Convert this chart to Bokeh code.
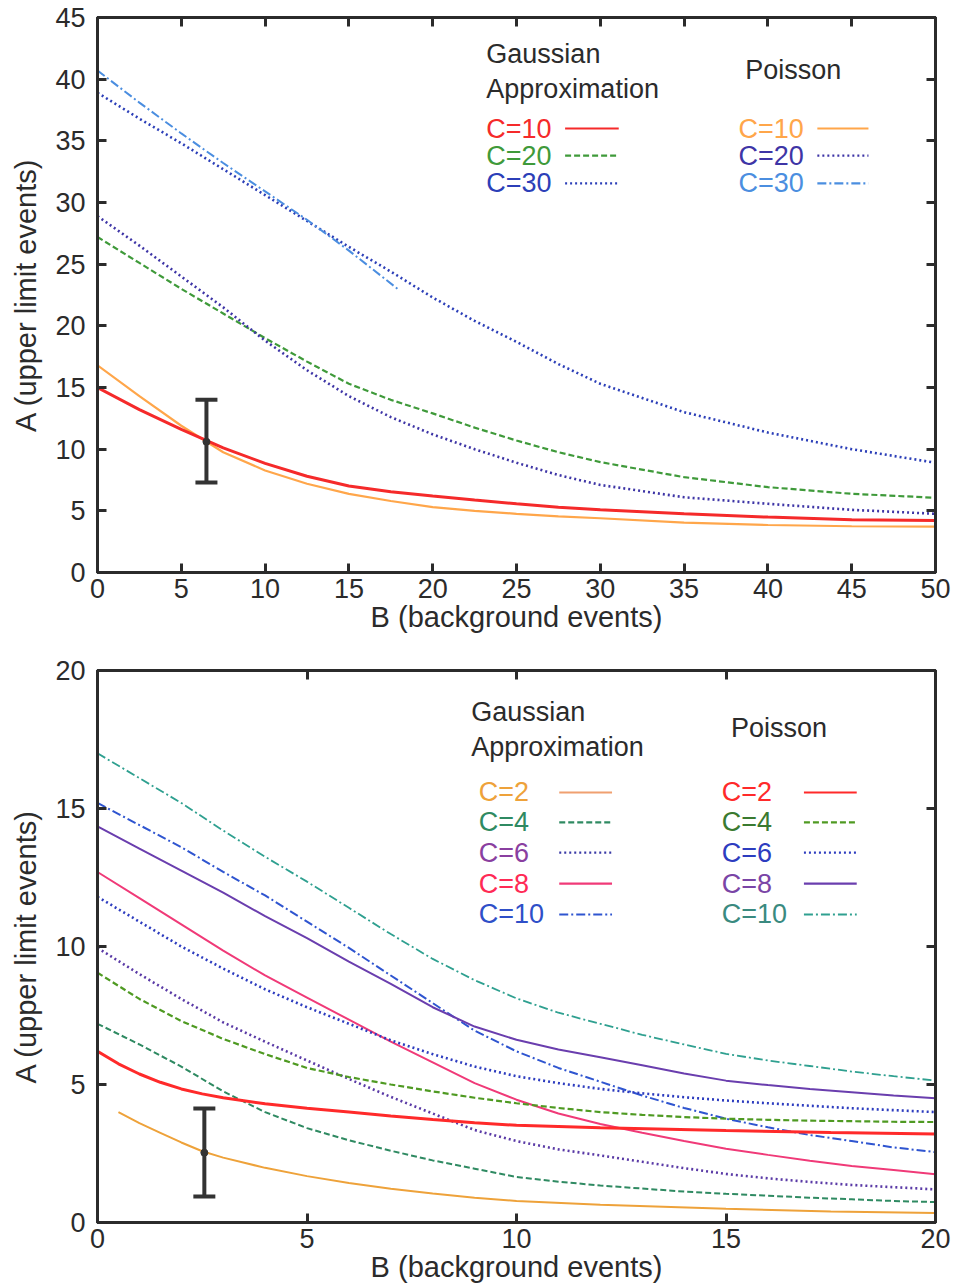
from bokeh.plotting import figure
from bokeh.models import Range1d, FixedTicker, LinearAxis, Label, Whisker, TeeHead, ColumnDataSource
from bokeh.layouts import column
from bokeh.embed import file_html
from bokeh.resources import INLINE

# ---------------- data: top panel (B from 0 to 50) ----------------
top_B = [0, 2.5, 5, 7.5, 10, 12.5, 15, 17.5, 20, 22.5, 25, 27.5, 30, 35, 40, 45, 50]
top_gauss_c10 = [15.0, 13.2, 11.6, 10.1, 8.85, 7.8, 7.02, 6.55, 6.2, 5.87, 5.57, 5.3, 5.08, 4.76, 4.49, 4.28, 4.22]
top_gauss_c20 = [27.2, 25.1, 23.0, 21.0, 19.0, 17.1, 15.3, 14.0, 12.9, 11.75, 10.7, 9.75, 8.95, 7.73, 6.92, 6.38, 6.06]
top_gauss_c30 = [38.9, 36.8, 34.8, 32.7, 30.6, 28.5, 26.4, 24.4, 22.3, 20.4, 18.7, 16.9, 15.3, 13.0, 11.35, 10.0, 8.9]
top_poisson_c10 = [16.8, 14.3, 11.9, 9.75, 8.27, 7.2, 6.38, 5.8, 5.3, 5.0, 4.76, 4.55, 4.4, 4.05, 3.85, 3.75, 3.72]
top_poisson_c20 = [28.9, 26.5, 24.0, 21.5, 18.8, 16.4, 14.3, 12.6, 11.2, 10.0, 8.9, 7.9, 7.1, 6.1, 5.57, 5.08, 4.76]
top_poisson_c30_B = [0, 2.5, 5, 7.5, 10, 12.5, 15, 18]
top_poisson_c30 = [40.7, 38.1, 35.6, 33.2, 30.9, 28.6, 26.1, 22.9]
top_err_B = [6.5]
top_err_mid = [10.6]
top_err_low = [7.3]
top_err_high = [14.0]

# ---------------- data: bottom panel (B from 0 to 20) ----------------
bot_B = list(range(0, 21))
bot_gauss_c2_B = [0.5, 1, 1.5, 2, 2.5, 3, 4, 5, 6, 7, 8, 9, 10, 12, 15, 17.5, 20]
bot_gauss_c2 = [4.0, 3.6, 3.25, 2.9, 2.58, 2.35, 1.98, 1.68, 1.43, 1.22, 1.05, 0.9, 0.78, 0.64, 0.5, 0.4, 0.34]
bot_gauss_c4 = [7.2, 6.45, 5.65, 4.75, 4.0, 3.42, 2.98, 2.6, 2.25, 1.95, 1.65, 1.48, 1.34, 1.23, 1.12, 1.04, 0.97, 0.9, 0.84, 0.78, 0.74]
bot_gauss_c6 = [9.95, 9.0, 8.1, 7.25, 6.55, 5.87, 5.2, 4.55, 3.95, 3.35, 2.95, 2.65, 2.43, 2.2, 1.97, 1.76, 1.6, 1.47, 1.36, 1.28, 1.2]
bot_gauss_c8 = [12.7, 11.75, 10.8, 9.85, 8.95, 8.15, 7.35, 6.55, 5.8, 5.05, 4.45, 3.95, 3.57, 3.25, 2.95, 2.67, 2.45, 2.24, 2.05, 1.9, 1.75]
bot_gauss_c10 = [15.2, 14.4, 13.6, 12.7, 11.85, 10.9, 9.95, 8.95, 7.95, 6.95, 6.2, 5.6, 5.1, 4.6, 4.15, 3.76, 3.45, 3.17, 2.95, 2.72, 2.55]
bot_poisson_c2_B = [0, 0.5, 1, 1.5, 2, 2.5, 3, 4, 5, 6, 7, 8, 9, 10, 12, 15, 17.5, 20]
bot_poisson_c2 = [6.2, 5.75, 5.38, 5.08, 4.84, 4.66, 4.52, 4.3, 4.14, 4.0, 3.86, 3.73, 3.61, 3.52, 3.43, 3.33, 3.26, 3.21]
bot_poisson_c4 = [9.05, 8.1, 7.3, 6.65, 6.1, 5.6, 5.27, 5.0, 4.75, 4.52, 4.32, 4.15, 4.0, 3.9, 3.82, 3.76, 3.72, 3.69, 3.67, 3.65, 3.64]
bot_poisson_c6 = [11.8, 10.9, 10.0, 9.2, 8.45, 7.8, 7.2, 6.6, 6.1, 5.65, 5.3, 5.05, 4.84, 4.68, 4.54, 4.42, 4.32, 4.23, 4.14, 4.07, 4.0]
bot_poisson_c8 = [14.35, 13.55, 12.75, 11.95, 11.1, 10.3, 9.45, 8.65, 7.8, 7.1, 6.62, 6.27, 5.99, 5.7, 5.4, 5.14, 4.98, 4.84, 4.72, 4.6, 4.5]
bot_poisson_c10 = [17.0, 16.1, 15.2, 14.2, 13.25, 12.35, 11.4, 10.45, 9.55, 8.78, 8.12, 7.6, 7.2, 6.8, 6.45, 6.11, 5.87, 5.67, 5.47, 5.3, 5.14]
bot_err_B = [2.55]
bot_err_mid = [2.53]
bot_err_low = [0.94]
bot_err_high = [4.13]

top_ticks_x = [0, 5, 10, 15, 20, 25, 30, 35, 40, 45, 50]
top_ticks_y = [0, 5, 10, 15, 20, 25, 30, 35, 40, 45]
bot_ticks = [0, 5, 10, 15, 20]

FONT = "Liberation Sans"
FS = "27px"
FS_AXIS = "29px"
INK = "#2b2b2b"
DASHED = "6 3"
DOTTED = "2 3"
DASHDOT = "9 3 2 3"


def make_fig(height, xr, yr, xticks, yticks, border_top, border_bottom, border_right):
    p = figure(width=958, height=height, x_range=Range1d(*xr), y_range=Range1d(*yr),
               output_backend="svg", toolbar_location=None,
               min_border_left=97, min_border_right=border_right,
               min_border_top=border_top, min_border_bottom=border_bottom)
    p.grid.visible = False
    p.background_fill_color = "white"
    p.border_fill_color = "white"
    p.outline_line_color = INK
    p.outline_line_width = 3
    for ax in (p.xaxis[0], p.yaxis[0]):
        ax.major_label_text_font = FONT
        ax.major_label_text_font_size = FS
        ax.major_label_text_color = INK
        ax.axis_label_text_font = FONT
        ax.axis_label_text_font_size = FS_AXIS
        ax.axis_label_text_font_style = "normal"
        ax.axis_label_text_color = INK
        ax.axis_line_color = INK
        ax.axis_line_width = 3
        ax.major_tick_in = 9
        ax.major_tick_out = 0
        ax.major_tick_line_width = 3
        ax.major_tick_line_color = INK
        ax.minor_tick_line_color = None
    p.xaxis[0].ticker = FixedTicker(ticks=xticks)
    p.yaxis[0].ticker = FixedTicker(ticks=yticks)
    p.xaxis[0].major_label_standoff = 6
    p.xaxis[0].axis_label_standoff = 0
    p.yaxis[0].major_label_standoff = 12
    p.yaxis[0].axis_label_standoff = 10
    p.xaxis[0].axis_label = "B (background events)"
    p.yaxis[0].axis_label = "A (upper limit events)"
    # mirrored ticks on top and right (no labels drawn)
    for loc, ticks in (("above", xticks), ("right", yticks)):
        ax = LinearAxis(ticker=FixedTicker(ticks=ticks), major_label_text_font_size="1px",
                        major_label_text_color=None, major_label_text_alpha=0,
                        axis_line_color=INK, axis_line_width=3, major_tick_in=9, major_tick_out=0,
                        major_tick_line_width=3, major_tick_line_color=INK,
                        minor_tick_line_color=None, major_label_standoff=0)
        p.add_layout(ax, loc)
    return p


def frac(rng, f):
    return rng[0] + f * (rng[1] - rng[0])


def add_text(p, x, y, text, color):
    p.add_layout(Label(x=x, y=y, text=text, text_font=FONT, text_font_size=FS,
                       text_color=color, text_baseline="middle", text_align="left"))


def add_errbar(p, xs, mid, lo, hi):
    src = ColumnDataSource(dict(base=xs, lower=lo, upper=hi))
    p.add_layout(Whisker(source=src, base="base", lower="lower", upper="upper",
                         line_width=4, line_color="#333333",
                         upper_head=TeeHead(size=22, line_width=4, line_color="#333333"),
                         lower_head=TeeHead(size=22, line_width=4, line_color="#333333")))
    p.scatter(xs, mid, size=7, color="#333333")


# ================= top panel =================
TX, TY = (0, 50), (0, 45)
p1 = make_fig(644, TX, TY, top_ticks_x, top_ticks_y, 17, 72, 23)

top_series = [
    (top_B, top_gauss_c20, "#3f9a3a", DASHED, 2.2),
    (top_B, top_gauss_c30, "#2c3fb8", DOTTED, 2.6),
    (top_B, top_poisson_c20, "#3e35a6", DOTTED, 2.6),
    (top_poisson_c30_B, top_poisson_c30, "#4b8ee0", DASHDOT, 2.0),
    (top_B, top_poisson_c10, "#ffa64a", None, 2.2),
    (top_B, top_gauss_c10, "#f52a2a", None, 3.0),
]
for xs, ys, col, dash, w in top_series:
    if dash:
        p1.line(xs, ys, line_color=col, line_width=w, line_dash=dash)
    else:
        p1.line(xs, ys, line_color=col, line_width=w)

add_errbar(p1, top_err_B, top_err_mid, top_err_low, top_err_high)

# legend (positions as frame fractions)
add_text(p1, frac(TX, 0.464), frac(TY, 0.935), "Gaussian", INK)
add_text(p1, frac(TX, 0.464), frac(TY, 0.872), "Approximation", INK)
add_text(p1, frac(TX, 0.773), frac(TY, 0.906), "Poisson", INK)
top_leg_rows = [0.800, 0.751, 0.701]
top_leg_g = [("C=10", "#f52a2a", None), ("C=20", "#3f9a3a", DASHED), ("C=30", "#2c3fb8", DOTTED)]
top_leg_p = [("C=10", "#ffa64a", None), ("C=20", "#3e35a6", DOTTED), ("C=30", "#4b8ee0", DASHDOT)]
for (gl, gc, gd), (pl, pc, pd), fy in zip(top_leg_g, top_leg_p, top_leg_rows):
    yy = frac(TY, fy)
    add_text(p1, frac(TX, 0.464), yy, gl, gc)
    add_text(p1, frac(TX, 0.765), yy, pl, pc)
    for x0, x1, c, d in ((0.558, 0.622, gc, gd), (0.859, 0.920, pc, pd)):
        kw = dict(line_color=c, line_width=2.2)
        if d:
            kw["line_dash"] = d
        p1.line([frac(TX, x0), frac(TX, x1)], [yy, yy], **kw)

# ================= bottom panel =================
BX, BY = (0, 20), (0, 20)
p2 = make_fig(643, BX, BY, bot_ticks, bot_ticks, 26, 65, 21)

bot_series = [
    (bot_gauss_c2_B, bot_gauss_c2, "#eea23a", None, 2.0),
    (bot_B, bot_gauss_c4, "#2f8a62", DASHED, 2.0),
    (bot_B, bot_gauss_c6, "#5a3aa6", DOTTED, 2.6),
    (bot_B, bot_gauss_c8, "#f03a78", None, 2.0),
    (bot_B, bot_gauss_c10, "#2f55d0", DASHDOT, 2.0),
    (bot_B, bot_poisson_c4, "#4f9a22", DASHED, 2.2),
    (bot_B, bot_poisson_c6, "#2d3cbf", DOTTED, 2.6),
    (bot_B, bot_poisson_c8, "#6a3eae", None, 2.0),
    (bot_B, bot_poisson_c10, "#2fa090", DASHDOT, 1.8),
    (bot_poisson_c2_B, bot_poisson_c2, "#ff2a2a", None, 3.0),
]
for xs, ys, col, dash, w in bot_series:
    if dash:
        p2.line(xs, ys, line_color=col, line_width=w, line_dash=dash)
    else:
        p2.line(xs, ys, line_color=col, line_width=w)

add_errbar(p2, bot_err_B, bot_err_mid, bot_err_low, bot_err_high)

add_text(p2, frac(BX, 0.446), frac(BY, 0.924), "Gaussian", INK)
add_text(p2, frac(BX, 0.446), frac(BY, 0.861), "Approximation", INK)
add_text(p2, frac(BX, 0.756), frac(BY, 0.895), "Poisson", INK)
bot_leg_rows = [0.779, 0.725, 0.670, 0.614, 0.558]
bot_leg_g = [("C=2", "#eea23a", None), ("C=4", "#2f8a62", DASHED), ("C=6", "#8a3fa0", DOTTED),
             ("C=8", "#ff2a55", None), ("C=10", "#2f4fc8", DASHDOT)]
bot_leg_p = [("C=2", "#ff2a2a", None), ("C=4", "#3a7a30", DASHED), ("C=6", "#2d3cbf", DOTTED),
             ("C=8", "#7a45a6", None), ("C=10", "#3a8a80", DASHDOT)]
bot_leg_line_g = ["#f0a070", "#2f8a62", "#3a3aa6", "#f03a78", "#2f55d0"]
bot_leg_line_p = ["#ff2a2a", "#4f9a22", "#2d3cbf", "#6a3eae", "#2fa090"]
for i, fy in enumerate(bot_leg_rows):
    yy = frac(BY, fy)
    gl, gc, gd = bot_leg_g[i]
    pl, pc, pd = bot_leg_p[i]
    add_text(p2, frac(BX, 0.455), yy, gl, gc)
    add_text(p2, frac(BX, 0.745), yy, pl, pc)
    for x0, x1, c, d in ((0.551, 0.614, bot_leg_line_g[i], gd), (0.843, 0.906, bot_leg_line_p[i], pd)):
        kw = dict(line_color=c, line_width=2.2)
        if d:
            kw["line_dash"] = d
        p2.line([frac(BX, x0), frac(BX, x1)], [yy, yy], **kw)

layout = column(p1, p2, spacing=0)
open("out.html", "w").write(file_html(layout, INLINE))
